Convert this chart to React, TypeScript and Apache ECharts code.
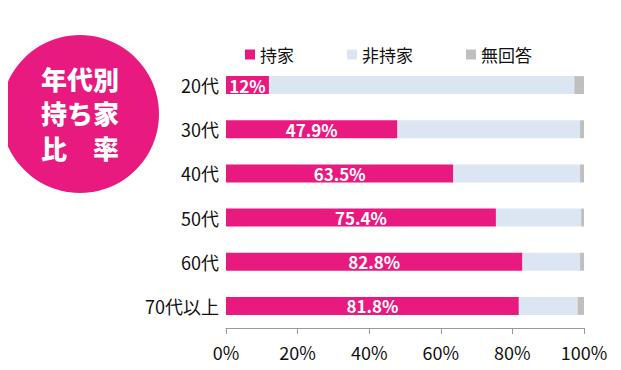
import React, { useEffect, useRef } from "react";
import * as echarts from "echarts";

const categories = ["20代", "30代", "40代", "50代", "60代", "70代以上"];
const ownerValues = [12, 47.9, 63.5, 75.4, 82.8, 81.8];
const nonOwnerValues = [85.3, 51.0, 35.4, 23.8, 16.1, 16.4];
const noAnswerValues = [2.7, 1.1, 1.1, 0.8, 1.1, 1.8];
const seriesNames = ["持家", "非持家", "無回答"];
const xTicks = [0, 20, 40, 60, 80, 100];

const FONT = "'Noto Sans CJK JP', 'Noto Sans', sans-serif";
const PINK = "#e8197f";
const LIGHT = "#dce6f2";
const GRAY = "#bfbfbf";

export default function App() {
  const ref = useRef<HTMLDivElement>(null);
  useEffect(() => {
    if (!ref.current) return;
    const chart = echarts.init(ref.current, null, { renderer: "svg" });
    chart.setOption({
      animation: false,
      textStyle: { fontFamily: FONT },
      legend: {
        top: 41,
        left: 240,
        itemWidth: 10,
        itemHeight: 10,
        itemGap: 53,
        icon: "rect",
        textStyle: { fontSize: 17, color: "#111", fontFamily: FONT },
        data: seriesNames,
      },
      grid: { left: 226, right: 37, top: 63, bottom: 42 },
      xAxis: {
        type: "value",
        min: xTicks[0],
        max: xTicks[xTicks.length - 1],
        interval: 20,
        axisLine: { show: true, lineStyle: { color: "#999", width: 1 } },
        axisTick: { show: true, length: 6, lineStyle: { color: "#999" } },
        splitLine: { show: false },
        axisLabel: {
          formatter: "{value}%",
          fontSize: 18,
          color: "#111",
          margin: 15,
          fontFamily: FONT,
        },
      },
      yAxis: {
        type: "category",
        inverse: true,
        data: categories,
        axisLine: { show: false },
        axisTick: { show: false },
        axisLabel: { fontSize: 18, color: "#111", margin: 7, fontFamily: FONT },
      },
      graphic: [
        {
          type: "circle",
          shape: { cx: 80, cy: 114, r: 79 },
          style: { fill: PINK },
        },
        {
          type: "text",
          x: 80,
          y: 78,
          style: {
            text: "年代別",
            fill: "#fff",
            font: `900 26px ${FONT}`,
            align: "center",
            verticalAlign: "middle",
          },
        },
        {
          type: "text",
          x: 80,
          y: 112,
          style: {
            text: "持ち家",
            fill: "#fff",
            font: `900 26px ${FONT}`,
            align: "center",
            verticalAlign: "middle",
          },
        },
        {
          type: "text",
          x: 80,
          y: 147,
          style: {
            text: "比　率",
            fill: "#fff",
            font: `900 26px ${FONT}`,
            align: "center",
            verticalAlign: "middle",
          },
        },
      ],
      series: [
        {
          name: seriesNames[0],
          type: "bar",
          stack: "total",
          barWidth: 18,
          data: ownerValues,
          itemStyle: { color: PINK },
          label: {
            show: true,
            position: "inside",
            formatter: "{c}%",
            color: "#fff",
            fontWeight: "bold",
            fontSize: 17,
            fontFamily: FONT,
          },
        },
        {
          name: seriesNames[1],
          type: "bar",
          stack: "total",
          barWidth: 18,
          data: nonOwnerValues,
          itemStyle: { color: LIGHT },
        },
        {
          name: seriesNames[2],
          type: "bar",
          stack: "total",
          barWidth: 18,
          data: noAnswerValues,
          itemStyle: { color: GRAY },
        },
      ],
    });
    return () => chart.dispose();
  }, []);
  return <div ref={ref} style={{ width: 621, height: 370, margin: -8 }} />;
}
